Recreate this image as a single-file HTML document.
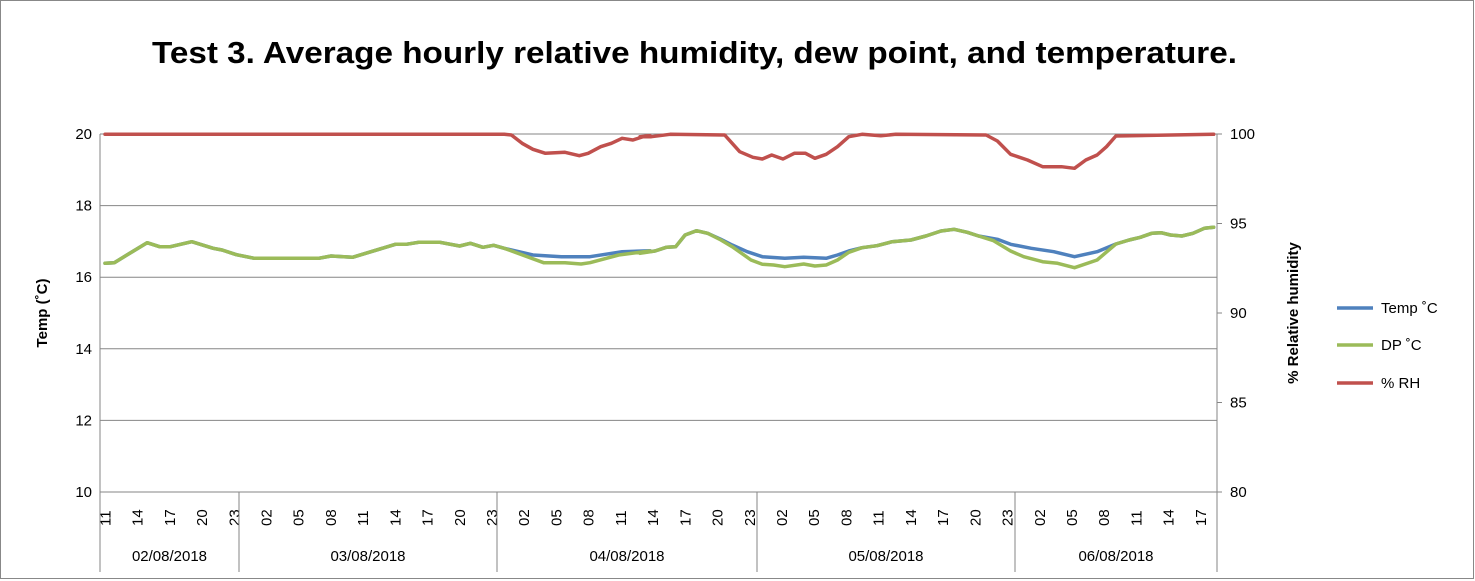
<!DOCTYPE html>
<html><head><meta charset="utf-8"><style>
html,body{margin:0;padding:0;background:#fff}
svg{display:block;font-family:"Liberation Sans",Calibri,sans-serif}
</style></head><body>
<svg id="s" width="1475" height="581" xmlns="http://www.w3.org/2000/svg">
<rect x="0.5" y="0.5" width="1473" height="578" fill="#fff" stroke="#888"/>
<text x="152" y="63" textLength="1085" lengthAdjust="spacingAndGlyphs" font-size="31" font-weight="bold" fill="#000">Test 3. Average hourly relative humidity, dew point, and temperature.</text>
<g id="g"></g>
</svg>
<script>
var g=document.getElementById('g'),h='';
var L=100,R=1217,T=134,B=492;
for(var i=0;i<6;i++){var y=T+i*(B-T)/5;h+='<line x1="'+L+'" x2="'+R+'" y1="'+y+'" y2="'+y+'" stroke="#868686" stroke-width="1"/>';
h+='<text x="92" y="'+(y+5)+'" text-anchor="end" font-size="15">'+(20-2*i)+'</text>';}
for(i=0;i<5;i++){var y=T+i*(B-T)/4;
h+='<line x1="'+R+'" x2="'+(R+5)+'" y1="'+y+'" y2="'+y+'" stroke="#868686"/>';
h+='<text x="1230" y="'+(y+5)+'" font-size="15">'+(100-5*i)+'</text>';}
h+='<line x1="'+L+'" x2="'+L+'" y1="'+T+'" y2="572" stroke="#868686"/>';
h+='<line x1="'+R+'" x2="'+R+'" y1="'+T+'" y2="572" stroke="#868686"/>';
var w=10.74,hrs=[];
for(var k=11;k<=23;k++)hrs.push(k);
for(var d=0;d<3;d++)for(k=0;k<24;k++)hrs.push(k);
for(k=0;k<=18;k++)hrs.push(k);
for(i=0;i<hrs.length;i++){var hr=hrs[i];if((hr-11+24)%3==0){var cx=L+(i+0.5)*w;
h+='<text transform="translate('+(cx+5)+',526) rotate(-90)" font-size="15">'+(hr<10?'0'+hr:hr)+'</text>';}}
var seps=[239,497,757,1015];seps.forEach(function(x){h+='<line x1="'+x+'" x2="'+x+'" y1="'+B+'" y2="572" stroke="#868686"/>';});
var dates=['02/08/2018','03/08/2018','04/08/2018','05/08/2018','06/08/2018'],bd=[100,239,497,757,1015,1217];
for(i=0;i<5;i++)h+='<text x="'+((bd[i]+bd[i+1])/2)+'" y="561" text-anchor="middle" font-size="15">'+dates[i]+'</text>';
h+='<text transform="translate(47,313) rotate(-90)" text-anchor="middle" font-size="15" font-weight="bold">Temp (˚C)</text>';
h+='<text transform="translate(1298,313) rotate(-90)" text-anchor="middle" font-size="15" font-weight="bold">% Relative humidity</text>';
function c1(a){return a.map(function(p){return [90+p[0]/2.8,120+p[1]/3];});}
function c2(a){return a.map(function(p){return [640+p[0]/2.658,120+p[1]/3];});}
var common1=[[40,430],[68,428],[160,368],[195,380],[225,380],[285,365],[345,385],[370,390],[410,404],[460,415],[640,415],[675,408],[735,412],[855,373],[885,373],[920,367],[980,367],[1035,378],[1065,370],[1100,382],[1130,376],[1160,385]];
var blue1=common1.concat([[1240,405],[1320,410],[1400,410],[1490,395],[1568,392]]);
var green1=common1.concat([[1270,428],[1330,428],[1375,432],[1400,428],[1480,405],[1568,393]]);
var blue2=[[0,398],[40,393],[70,382],[95,380],[120,345],[150,332],[180,340],[215,358],[245,375],[285,395],[325,410],[385,415],[435,412],[495,415],[525,405],[555,393],[590,383],[630,377],[670,365],[720,360],[760,348],[800,333],[835,328],[870,337],[900,348],[950,358],[985,373],[1040,385],[1100,395],[1155,410],[1215,395],[1265,372],[1300,360],[1330,352],[1360,340],[1385,338],[1410,345],[1440,348],[1470,340],[1500,325],[1525,322]];
var green2=[[0,400],[40,393],[70,382],[95,380],[120,345],[150,332],[180,340],[215,360],[245,380],[270,400],[295,420],[325,433],[355,435],[385,440],[435,432],[465,438],[495,435],[525,420],[555,397],[590,383],[630,377],[670,365],[720,360],[760,348],[800,333],[835,328],[870,337],[900,348],[940,362],[985,393],[1020,410],[1070,425],[1110,430],[1155,443],[1215,420],[1265,372],[1300,360],[1330,352],[1360,340],[1385,338],[1410,345],[1440,348],[1470,340],[1500,325],[1525,322]];
var red1=[[40,43],[1160,43],[1180,45],[1210,70],[1240,88],[1275,100],[1330,97],[1370,107],[1395,100],[1430,80],[1460,70],[1490,55],[1520,60],[1555,48],[1568,47]];
var red2=[[0,50],[30,50],[80,43],[225,45],[265,95],[300,112],[325,117],[350,105],[380,117],[410,100],[440,100],[465,115],[495,103],[525,80],[555,50],[590,43],[640,47],[680,43],[920,45],[950,63],[985,103],[1030,120],[1070,140],[1120,140],[1155,145],[1185,120],[1215,105],[1240,80],[1265,48],[1525,43]];
function pl(a,col){return '<polyline fill="none" stroke="'+col+'" stroke-width="3.5" stroke-linejoin="round" stroke-linecap="round" points="'+a.map(function(p){return p[0].toFixed(1)+','+p[1].toFixed(1);}).join(' ')+'"/>';}
var r=c1(red1).concat(c2(red2)),b=c1(blue1).concat(c2(blue2)),gr=c1(green1).concat(c2(green2));
r[0][0]=105;b[0][0]=105;gr[0][0]=105;
h+=pl(r,'#C0504D')+pl(b,'#4F81BD')+pl(gr,'#9BBB59');
var lg=[['Temp ˚C','#4F81BD',308],['DP ˚C','#9BBB59',345],['% RH','#C0504D',383]];
lg.forEach(function(l){h+='<line x1="1337" x2="1373" y1="'+l[2]+'" y2="'+l[2]+'" stroke="'+l[1]+'" stroke-width="3.5"/><text x="1381" y="'+(l[2]+5)+'" font-size="15">'+l[0]+'</text>';});
g.innerHTML=h;
</script>
</body></html>
